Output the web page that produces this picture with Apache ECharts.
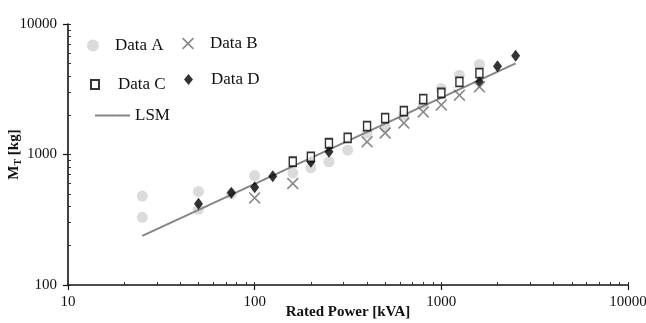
<!DOCTYPE html>
<html>
<head>
<meta charset="utf-8">
<script src="https://cdn.jsdelivr.net/npm/echarts@6/dist/echarts.min.js"></script>
<style>html,body{margin:0;padding:0;background:#fff;}#c{width:646px;height:323px;}</style>
</head>
<body>
<div id="c"></div>
<script>
// ---- data ----
const powerA = [25, 25, 50, 50, 75, 100, 160, 200, 250, 315, 400, 500, 630, 800, 1000, 1250, 1600];
const massA  = [480, 330, 520, 380, 500, 690, 720, 790, 880, 1080, 1460, 1620, 2000, 2450, 3200, 4050, 4900];

const powerB = [100, 160, 400, 500, 630, 800, 1000, 1250, 1600];
const massB  = [465, 600, 1250, 1460, 1740, 2120, 2400, 2850, 3300];

const powerC = [160, 200, 250, 315, 400, 500, 630, 800, 1000, 1250, 1600];
const massC  = [880, 960, 1220, 1340, 1650, 1900, 2150, 2660, 2960, 3600, 4200];

const powerD = [50, 75, 100, 125, 200, 250, 1600, 2000, 2500];
const massD  = [420, 510, 560, 680, 880, 1050, 3600, 4750, 5700];

const powerLSM = [25, 2500];
const massLSM  = [238, 5000];

const xTicks = [10, 100, 1000, 10000];
const yTicks = [100, 1000, 10000];
const xMinor = [20,30,40,50,60,70,80,90,200,300,400,500,600,700,800,900,2000,3000,4000,5000,6000,7000,8000,9000];
const yMinor = [200,300,400,500,600,700,800,900,2000,3000,4000,5000,6000,7000,8000,9000];

const zip = (a, b) => a.map((v, i) => [v, b[i]]);
const serif = 'Liberation Serif';
const xPath = 'path://M0,1 L1,0 L5,4 L9,0 L10,1 L6,5 L10,9 L9,10 L5,6 L1,10 L0,9 L4,5 Z';
const plain = v => String(Math.round(v));

const chart = echarts.init(document.getElementById('c'));

function legendAt(name, left, top, iw, ih, padLeft) {
  return {
    data: [name], left: left, top: top, itemWidth: iw, itemHeight: ih,
    selectedMode: false, padding: 0,
    textStyle: { fontFamily: serif, fontSize: 17, color: '#111', padding: [0, 0, 0, padLeft] }
  };
}

chart.setOption({
  animation: false,
  backgroundColor: '#fff',
  grid: { left: 68, right: 18, top: 24, bottom: 38, containLabel: false, outerBoundsMode: 'none' },
  legend: [
    legendAt('Data A', 87, 37, 12, 12, 11),
    legendAt('Data B', 182, 35, 12, 12, 11),
    legendAt('Data C', 90, 76, 8, 9, 14),
    legendAt('Data D', 184, 71, 9, 11, 13),
    legendAt('LSM', 94, 107, 35, 2, 0)
  ],
  xAxis: [{
    type: 'log', logBase: 10, min: 10, max: 10000,
    name: 'Rated Power [kVA]', nameLocation: 'middle', nameGap: 20, nameMoveOverlap: false,
    nameTextStyle: { fontFamily: serif, fontSize: 15, fontWeight: 'bold', color: '#111' },
    axisLine: { show: true, lineStyle: { color: '#111', width: 1.6 } },
    axisTick: { show: true, length: 5, inside: false, lineStyle: { color: '#111', width: 1.2 }, customValues: xTicks },
    axisLabel: { fontFamily: serif, fontSize: 15, color: '#111', margin: 10, customValues: xTicks, formatter: plain },
    splitLine: { show: false }
  }, {
    type: 'log', logBase: 10, min: 10, max: 10000, position: 'bottom',
    axisLine: { show: false },
    axisTick: { show: true, length: 3, inside: true, lineStyle: { color: '#333', width: 1 }, customValues: xMinor.concat(xTicks) },
    axisLabel: { show: false }, splitLine: { show: false }
  }],
  yAxis: [{
    type: 'log', logBase: 10, min: 100, max: 10000,
    name: '{m|M}{t|T}{m| [kg]}', nameLocation: 'middle', nameGap: 45, nameMoveOverlap: false,
    nameTextStyle: { rich: {
      m: { fontFamily: serif, fontSize: 15, fontWeight: 'bold', color: '#111' },
      t: { fontFamily: serif, fontSize: 10, fontWeight: 'bold', color: '#111', padding: [8, 0, 0, 0] }
    } },
    axisLine: { show: true, lineStyle: { color: '#111', width: 1.6 } },
    axisTick: { show: true, length: 5, inside: false, lineStyle: { color: '#111', width: 1.2 }, customValues: yTicks },
    axisLabel: { fontFamily: serif, fontSize: 15, color: '#111', margin: 11, customValues: yTicks, formatter: plain },
    splitLine: { show: false }
  }, {
    type: 'log', logBase: 10, min: 100, max: 10000, position: 'left',
    axisLine: { show: false },
    axisTick: { show: true, length: 3, inside: true, lineStyle: { color: '#333', width: 1 }, customValues: yMinor.concat(yTicks) },
    axisLabel: { show: false }, splitLine: { show: false }
  }],
  series: [
    { name: 'Data A', type: 'scatter', data: zip(powerA, massA), symbol: 'circle', symbolSize: 11,
      itemStyle: { color: '#d2d2d2' }, z: 2 },
    { name: 'LSM', type: 'line', data: zip(powerLSM, massLSM), symbol: 'none', showSymbol: false,
      lineStyle: { color: '#858585', width: 2 }, itemStyle: { color: '#858585' }, z: 3 },
    { name: 'Data D', type: 'scatter', data: zip(powerD, massD), symbol: 'diamond', symbolSize: [9, 12],
      itemStyle: { color: '#000' }, z: 4 },
    { name: 'Data C', type: 'scatter', data: zip(powerC, massC), symbol: 'rect', symbolSize: [7, 9],
      itemStyle: { color: '#fff', borderColor: '#000', borderWidth: 1.6 }, z: 5 },
    { name: 'Data B', type: 'scatter', data: zip(powerB, massB), symbol: xPath, symbolSize: 12,
      itemStyle: { color: '#6e6e6e' }, z: 6 }
  ]
});
</script>
</body>
</html>
